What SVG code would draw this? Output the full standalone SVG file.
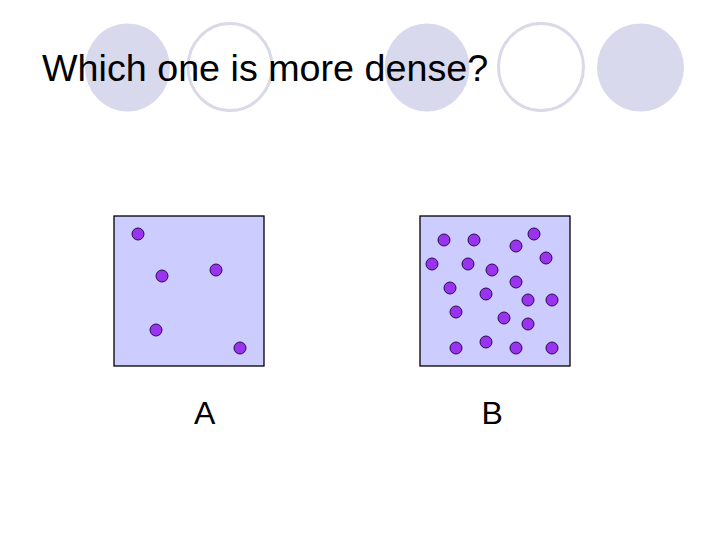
<svg xmlns="http://www.w3.org/2000/svg" width="720" height="540" viewBox="0 0 720 540">
<style>
.bf{fill:#d9d9ee;stroke:none}
.bo{fill:#ffffff;stroke:#d9d9e8;stroke-width:3}
.box{fill:#ccccff;stroke:#000000;stroke-width:1.3}
.dot{fill:#9933ee;stroke:#2a0a50;stroke-width:1}
.t{font-family:"Liberation Sans",Arial,sans-serif;fill:#000000}
</style>
<rect width="720" height="540" fill="#ffffff"/>
<g id="decor">
<ellipse class="bf" cx="127.5" cy="67.5" rx="42.5" ry="44"/>
<ellipse class="bo" cx="230" cy="67" rx="42" ry="43.5"/>
<ellipse class="bf" cx="427" cy="67.5" rx="42.5" ry="44"/>
<ellipse class="bo" cx="541" cy="67" rx="42.5" ry="43.5"/>
<ellipse class="bf" cx="640.5" cy="67.5" rx="43.5" ry="44"/>
</g>
<text id="title" class="t" x="42" y="81" font-size="37.7">Which one is more dense?</text>
<g id="boxA">
<rect class="box" x="114" y="216" width="150" height="150"/>
<circle class="dot" cx="138" cy="234" r="6"/>
<circle class="dot" cx="162" cy="276" r="6"/>
<circle class="dot" cx="216" cy="270" r="6"/>
<circle class="dot" cx="156" cy="330" r="6"/>
<circle class="dot" cx="240" cy="348" r="6"/>
</g>
<g id="boxB">
<rect class="box" x="420" y="216" width="150" height="150"/>
<circle class="dot" cx="444" cy="240" r="6"/>
<circle class="dot" cx="474" cy="240" r="6"/>
<circle class="dot" cx="534" cy="234" r="6"/>
<circle class="dot" cx="516" cy="246" r="6"/>
<circle class="dot" cx="546" cy="258" r="6"/>
<circle class="dot" cx="432" cy="264" r="6"/>
<circle class="dot" cx="468" cy="264" r="6"/>
<circle class="dot" cx="492" cy="270" r="6"/>
<circle class="dot" cx="516" cy="282" r="6"/>
<circle class="dot" cx="450" cy="288" r="6"/>
<circle class="dot" cx="486" cy="294" r="6"/>
<circle class="dot" cx="528" cy="300" r="6"/>
<circle class="dot" cx="552" cy="300" r="6"/>
<circle class="dot" cx="456" cy="312" r="6"/>
<circle class="dot" cx="504" cy="318" r="6"/>
<circle class="dot" cx="528" cy="324" r="6"/>
<circle class="dot" cx="456" cy="348" r="6"/>
<circle class="dot" cx="486" cy="342" r="6"/>
<circle class="dot" cx="516" cy="348" r="6"/>
<circle class="dot" cx="552" cy="348" r="6"/>
</g>
<text id="labelA" class="t" x="194" y="424" font-size="32">A</text>
<text id="labelB" class="t" x="481.5" y="424" font-size="32">B</text>
</svg>
